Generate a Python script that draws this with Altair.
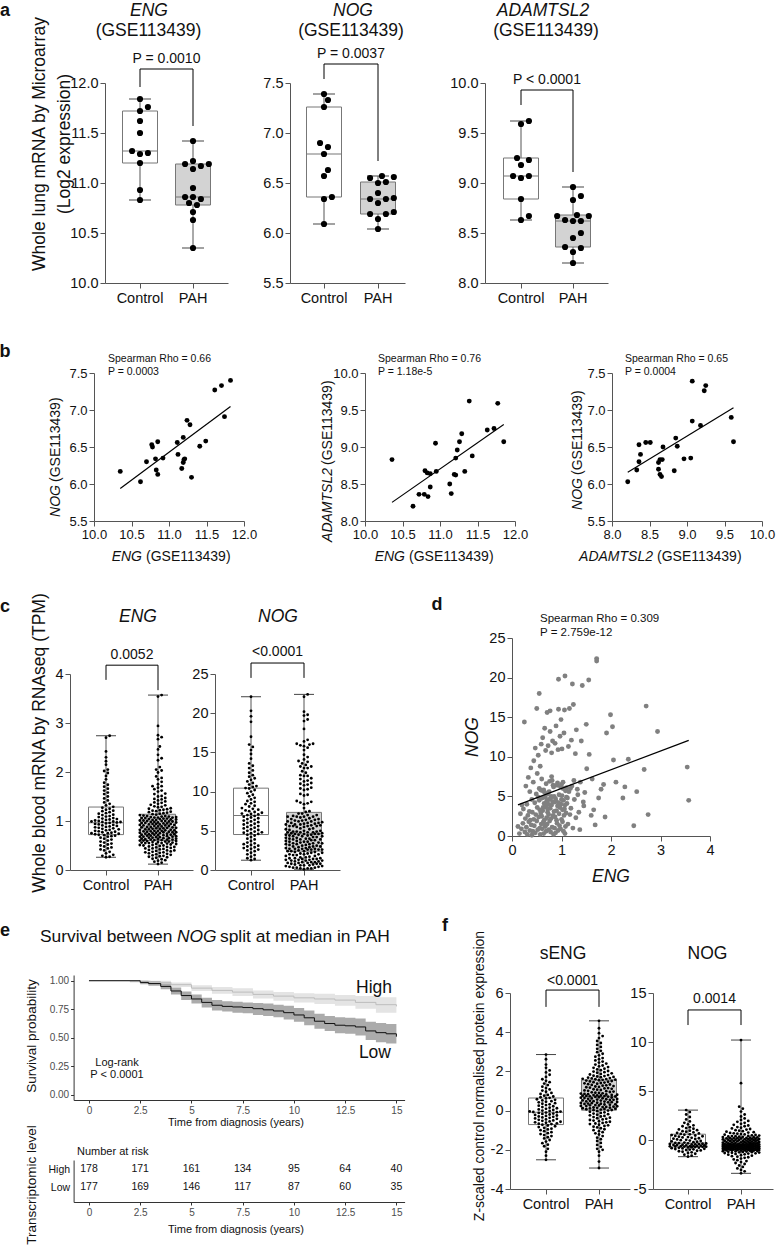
import math
import numpy as np
import pandas as pd
import altair as alt

FONT = "Liberation Sans"
ONE = pd.DataFrame({"k": [0]})
GROUPS = ["Control", "PAH"]
AXC = "#555555"
BOXC = "#777777"
PAH_FILL = "#d3d3d3"
W_TOTAL, H_TOTAL = 777, 1249

# ---------------- panel a : GSE113439 microarray ----------------
a_eng_ctrl = [11.84, 11.76, 11.72, 11.62, 11.50, 11.32, 11.30, 11.29, 11.20, 10.93, 10.83]
a_eng_pah = [11.42, 11.22, 11.19, 11.19, 11.17, 11.14, 10.95, 10.86, 10.86, 10.84, 10.80, 10.78, 10.71, 10.63, 10.35]
a_nog_ctrl = [7.39, 7.33, 7.26, 6.90, 6.86, 6.79, 6.63, 6.57, 6.36, 6.34, 6.09]
a_nog_pah = [6.57, 6.56, 6.55, 6.51, 6.50, 6.40, 6.35, 6.34, 6.34, 6.30, 6.21, 6.19, 6.19, 6.14, 6.04]
a_adam_ctrl = [9.62, 9.59, 9.25, 9.23, 9.18, 9.07, 9.07, 9.05, 8.84, 8.67, 8.63]
a_adam_pah = [8.96, 8.87, 8.83, 8.68, 8.67, 8.67, 8.63, 8.62, 8.62, 8.50, 8.45, 8.36, 8.35, 8.31, 8.20]

# ---------------- panel b : correlations ----------------
b1_eng = [10.35, 10.62, 10.70, 10.77, 10.78, 10.85, 10.82, 10.83, 10.85, 10.92, 11.11, 11.12, 11.19,
          11.24, 11.28, 11.17, 11.19, 11.21, 11.30, 11.41, 11.49, 11.61, 11.70, 11.74, 11.82, 11.20]
b1_nog = [6.17, 6.03, 6.30, 6.53, 6.50, 6.57, 6.34, 6.19, 6.13, 6.35, 6.56, 6.40, 6.63,
          6.86, 6.80, 6.21, 6.29, 6.34, 6.09, 6.51, 6.58, 7.27, 7.33, 6.91, 7.40, 6.33]
b2_eng = [10.36, 10.64, 10.72, 10.79, 10.80, 10.83, 10.87, 10.84, 10.87, 10.94, 10.95, 11.13, 11.15,
          11.19, 11.21, 11.21, 11.23, 11.26, 11.29, 11.33, 11.43, 11.39, 11.63, 11.72, 11.77, 11.85]
b2_adam = [8.83, 8.20, 8.36, 8.36, 8.68, 8.65, 8.64, 8.33, 8.46, 9.05, 8.67, 8.50, 8.37,
           8.63, 8.62, 8.85, 8.96, 9.07, 9.18, 8.67, 8.88, 9.62, 9.23, 9.25, 9.59, 9.07]
b3_adam = [8.21, 8.33, 8.36, 8.36, 8.38, 8.45, 8.51, 8.62, 8.62, 8.64, 8.66, 8.64, 8.67,
           8.68, 8.83, 8.85, 8.87, 8.96, 9.05, 9.07, 9.07, 9.18, 9.23, 9.25, 9.59, 9.62]
b3_nog = [6.03, 6.19, 6.30, 6.53, 6.40, 6.56, 6.56, 6.29, 6.20, 6.13, 6.10, 6.33, 6.33,
          6.50, 6.18, 6.62, 6.51, 6.34, 6.35, 6.85, 7.39, 6.79, 7.26, 7.33, 6.90, 6.57]

# ---------------- panel c/d : whole blood RNAseq (TPM) ----------------
c_eng_ctrl = [2.74, 2.70, 2.42, 2.30, 2.22, 2.15, 2.05, 2.02, 1.98, 1.92, 1.85, 1.78, 1.74, 1.70, 1.66,
              1.62, 1.58, 1.55, 1.50, 1.46, 1.42, 1.38, 1.35, 1.32, 1.29,
              1.27, 1.25, 1.23, 1.21, 1.20, 1.18, 1.16, 1.15, 1.13, 1.12, 1.10, 1.09, 1.08, 1.06, 1.05,
              1.04, 1.03, 1.02, 1.01, 1.00, 0.99, 0.99, 0.98, 0.98, 0.97,
              0.96, 0.95, 0.94, 0.93, 0.92, 0.91, 0.90, 0.89, 0.88, 0.87, 0.86, 0.85, 0.84, 0.83, 0.82,
              0.81, 0.80, 0.79, 0.78, 0.77, 0.76, 0.75, 0.75, 0.74, 0.73,
              0.72, 0.71, 0.70, 0.69, 0.68, 0.66, 0.64, 0.62, 0.60, 0.58, 0.56, 0.54, 0.52, 0.50, 0.48,
              0.46, 0.44, 0.42, 0.40, 0.37, 0.34, 0.31, 0.29, 0.27, 0.26]
c_nog_ctrl = [22.1, 20.3, 19.6, 18.9, 17.0, 16.0, 15.7, 15.3, 14.8, 14.2, 13.6, 13.3, 13.0, 12.7, 12.4,
              12.1, 11.9, 11.7, 11.5, 11.3, 11.1, 10.9, 10.7, 10.6, 10.45,
              10.4, 10.2, 10.0, 9.8, 9.6, 9.4, 9.2, 9.0, 8.8, 8.7, 8.5, 8.4, 8.2, 8.1, 7.9,
              7.8, 7.7, 7.6, 7.5, 7.4, 7.3, 7.2, 7.15, 7.1, 7.0,
              6.9, 6.8, 6.7, 6.6, 6.5, 6.4, 6.3, 6.2, 6.1, 6.0, 5.9, 5.8, 5.7, 5.6, 5.5,
              5.4, 5.3, 5.2, 5.1, 5.0, 4.9, 4.8, 4.75, 4.7, 4.6,
              4.5, 4.4, 4.2, 4.0, 3.9, 3.7, 3.5, 3.4, 3.3, 3.2, 3.1, 3.0, 2.9, 2.8, 2.7,
              2.6, 2.5, 2.4, 2.2, 2.0, 1.9, 1.7, 1.5, 1.4, 1.25]
# PAH patients: ENG and NOG TPM (paired; also the points of panel d)
pah_eng = [0.12, 0.15, 0.17, 0.19, 0.20, 0.22, 0.23, 0.25, 0.26, 0.27, 0.28, 0.29, 0.30, 0.31, 0.32,
           0.33, 0.34, 0.35, 0.36, 0.36, 0.37, 0.38, 0.39, 0.40, 0.40,
           0.41, 0.42, 0.43, 0.44, 0.44, 0.45, 0.46, 0.47, 0.47, 0.48, 0.49, 0.50, 0.50, 0.51, 0.51,
           0.52, 0.53, 0.53, 0.54, 0.55, 0.55, 0.56, 0.56, 0.57, 0.57, 0.58, 0.58, 0.59, 0.59, 0.55,
           0.60, 0.60, 0.61, 0.61, 0.62, 0.62, 0.63, 0.63, 0.64, 0.64, 0.65, 0.65, 0.66, 0.66, 0.67,
           0.67, 0.68, 0.68, 0.69, 0.69, 0.70, 0.70, 0.71, 0.71, 0.72, 0.72, 0.73, 0.73, 0.74, 0.74,
           0.75, 0.75, 0.76, 0.76, 0.77, 0.77, 0.78, 0.78, 0.79, 0.79, 0.80, 0.80, 0.81, 0.81, 0.82,
           0.82, 0.83, 0.83, 0.84, 0.84, 0.62, 0.68, 0.72, 0.77, 0.80,
           0.85, 0.85, 0.86, 0.86, 0.87, 0.87, 0.88, 0.88, 0.89, 0.89, 0.90, 0.90, 0.91, 0.91, 0.92,
           0.92, 0.93, 0.93, 0.94, 0.94, 0.95, 0.95, 0.96, 0.96, 0.97, 0.97, 0.98, 0.98, 0.99, 0.99,
           1.00, 1.00, 1.01, 1.01, 1.02, 1.02, 1.03, 1.03, 1.04, 1.04, 1.05, 1.05, 1.06, 1.06, 1.07,
           1.07, 1.08, 1.08, 1.09, 1.09, 1.10, 1.10, 0.94, 1.07, 1.00,
           1.11, 1.12, 1.13, 1.14, 1.15, 1.16, 1.17, 1.18, 1.19, 1.20, 1.21, 1.22, 1.23, 1.24, 1.25,
           1.26, 1.28, 1.29, 1.30, 1.32, 1.33, 1.35, 1.37, 1.38, 1.40, 1.42, 1.44, 1.45, 1.47, 1.50,
           1.51, 1.55, 1.56, 1.60, 1.62, 1.65, 1.68, 1.71, 1.71, 1.75, 1.80, 1.85, 1.88, 1.91, 1.99,
           2.03, 2.05, 2.10, 2.24, 2.28, 2.35, 2.46, 2.52, 2.67, 2.71, 2.75, 2.94, 3.54, 3.57]
pah_nog = [1.2, 0.3, 2.8, 0.9, 3.9, 1.6, 3.4, 14.4, 0.5, 2.2, 6.3, 1.1, 4.0, 0.2, 2.6,
           7.4, 1.8, 3.1, 0.7, 5.6, 2.0, 8.6, 1.4, 4.6, 0.1,
           3.0, 0.6, 6.8, 2.1, 9.5, 1.3, 4.2, 11.1, 0.4, 2.7, 5.3, 16.1, 1.9, 3.6, 7.9,
           0.8, 4.9, 10.2, 2.4, 6.0, 18.0, 1.0, 3.3, 8.8, 0.2, 5.8, 2.9, 11.6, 1.5, 4.5,
           2.5, 7.2, 0.9, 4.8, 12.4, 3.2, 1.7, 3.6, 5.8, 0.3, 4.1, 2.0, 13.6, 5.5, 1.2,
           4.9, 3.7, 10.8, 0.6, 6.6, 2.3, 4.4, 15.6, 1.5, 5.3, 3.0, 4.0, 11.4, 0.8, 2.7,
           5.6, 4.6, 1.9, 6.9, 13.2, 3.5, 0.5, 4.7, 5.0, 2.2, 10.5, 3.9, 7.0, 1.1, 4.3,
           12.0, 2.6, 6.4, 0.2, 6.2, 5.7, 1.4, 3.4, 15.8, 7.5,
           3.1, 5.0, 1.0, 4.3, 11.7, 2.4, 4.7, 0.4, 4.4, 13.9, 2.0, 3.2, 6.4, 1.6, 3.8,
           6.7, 0.7, 10.9, 4.2, 19.8, 2.8, 5.2, 3.7, 1.3, 12.6, 3.6, 6.2, 0.9, 4.0, 14.7,
           2.1, 4.6, 5.1, 11.0, 1.8, 3.3, 6.8, 6.0, 0.6, 4.5, 13.0, 2.6, 3.4, 15.9, 3.9,
           20.2, 1.2, 5.7, 5.8, 2.9, 6.1, 4.9, 16.0, 0.3, 6.5,
           4.1, 4.8, 1.5, 11.3, 5.6, 16.1, 2.7, 6.0, 3.5, 12.1, 6.3, 19.2, 1.0, 16.6, 7.0,
           4.6, 10.4, 2.3, 13.4, 5.9, 5.2, 3.0, 0.8, 6.8, 12.0, 19.0, 4.3, 3.8, 5.5, 14.1,
           8.5, 19.7, 10.3, 2.6, 7.2, 3.3, 1.4, 22.4, 22.1, 4.8, 5.9, 6.5, 2.4, 13.0, 15.3,
           13.8, 9.6, 6.8, 4.8, 6.2, 9.7, 1.3, 5.6, 8.4, 16.4, 2.7, 13.2, 8.7, 4.5]

# ---------------- panel e : survival ----------------
km_t_high = [0, 2, 3, 4, 5, 6, 7, 8, 9, 10, 11, 12, 13, 14, 15]
km_s_high = [1.0, 0.995, 0.985, 0.965, 0.935, 0.915, 0.90, 0.88, 0.865, 0.85, 0.84, 0.83, 0.81, 0.79, 0.775]
km_lo_high = [1.0, 0.985, 0.97, 0.945, 0.91, 0.885, 0.865, 0.845, 0.825, 0.81, 0.795, 0.78, 0.755, 0.72, 0.69]
km_hi_high = [1.0, 1.0, 1.0, 0.985, 0.96, 0.945, 0.935, 0.915, 0.90, 0.89, 0.885, 0.875, 0.865, 0.855, 0.85]
km_t_low = [0, 2.5, 2.9, 3.5, 4.0, 4.5, 5.0, 5.5, 6.0, 6.5, 7.0, 7.5, 8.0, 8.5, 9.0, 9.5, 10.0,
            10.5, 11.0, 11.5, 12.0, 12.5, 13.0, 13.5, 14.0, 14.5, 15.0]
km_s_low = [1.0, 0.985, 0.975, 0.95, 0.91, 0.87, 0.84, 0.81, 0.785, 0.775, 0.77, 0.765, 0.755, 0.745,
            0.735, 0.72, 0.70, 0.675, 0.645, 0.625, 0.61, 0.605, 0.595, 0.56, 0.545, 0.535, 0.51]
km_lo_low = [1.0, 0.97, 0.955, 0.925, 0.88, 0.83, 0.80, 0.765, 0.74, 0.73, 0.72, 0.715, 0.70, 0.69,
             0.68, 0.66, 0.64, 0.61, 0.58, 0.56, 0.54, 0.535, 0.52, 0.48, 0.46, 0.45, 0.42]
km_hi_low = [1.0, 1.0, 0.995, 0.975, 0.94, 0.905, 0.88, 0.85, 0.83, 0.82, 0.815, 0.81, 0.805, 0.80,
             0.79, 0.78, 0.76, 0.74, 0.71, 0.69, 0.68, 0.675, 0.67, 0.64, 0.63, 0.62, 0.60]
risk_times = [0, 2.5, 5, 7.5, 10, 12.5, 15]
risk_high = [178, 171, 161, 134, 95, 64, 40]
risk_low = [177, 169, 146, 117, 87, 60, 35]

# ---------------- panel f : plasma proteomics ----------------
f_seng_ctrl = [2.86, 2.62, 2.35, 2.18, 2.05, 1.95, 1.83, 1.72, 1.60, 1.52, 1.45, 1.38, 1.30, 1.22, 1.15,
               1.08, 1.02, 0.96, 0.90, 0.85, 0.80, 0.76, 0.72, 0.68, 0.65,
               0.62, 0.58, 0.55, 0.52, 0.48, 0.45, 0.42, 0.38, 0.35, 0.32, 0.28, 0.25, 0.22, 0.18, 0.15,
               0.12, 0.09, 0.06, 0.03, 0.0, -0.02, -0.04, -0.05, -0.07, -0.08,
               -0.10, -0.12, -0.15, -0.17, -0.20, -0.22, -0.25, -0.27, -0.30, -0.32, -0.35, -0.37, -0.40,
               -0.42, -0.45, -0.47, -0.50, -0.52, -0.55, -0.57, -0.60, -0.62, -0.65, -0.67, -0.69,
               -0.72, -0.76, -0.80, -0.84, -0.88, -0.92, -0.96, -1.00, -1.05, -1.10, -1.15, -1.20, -1.25,
               -1.30, -1.36, -1.42, -1.50, -1.58, -1.66, -1.74, -1.82, -1.95, -2.10, -2.30, -2.51]
f_seng_pah = [4.58, 4.2, 3.95, 3.8, 3.7, 3.55, 3.45, 3.35, 3.25, 3.15, 3.05, 2.98, 2.9, 2.82, 2.75,
              2.68, 2.62, 2.56, 2.5, 2.45, 2.4, 2.35, 2.3, 2.26, 2.22, 2.18, 2.14, 2.1, 2.06, 2.02,
              1.99, 1.96, 1.93, 1.9, 1.87, 1.84, 1.81, 1.78, 1.76, 1.74, 1.72, 1.7, 1.68, 1.66, 1.64,
              1.62, 1.61, 1.6, 1.58, 1.57,
              1.55, 1.53, 1.51, 1.49, 1.47, 1.45, 1.43, 1.41, 1.39, 1.37, 1.35, 1.33, 1.31, 1.29, 1.27,
              1.25, 1.23, 1.21, 1.19, 1.17, 1.15, 1.13, 1.11, 1.09, 1.07, 1.05, 1.03, 1.01, 0.99, 0.97,
              0.95, 0.93, 0.91, 0.9, 0.88, 0.87, 0.85, 0.84, 0.82, 0.81, 0.8, 0.79, 0.78, 0.77, 0.76,
              0.75, 0.74, 0.73, 0.72, 0.71,
              0.70, 0.68, 0.67, 0.66, 0.64, 0.63, 0.62, 0.6, 0.59, 0.58, 0.56, 0.55, 0.54, 0.52, 0.51,
              0.5, 0.48, 0.47, 0.46, 0.44, 0.43, 0.42, 0.4, 0.39, 0.38, 0.36, 0.35, 0.34, 0.32, 0.31,
              0.3, 0.28, 0.27, 0.26, 0.24, 0.23, 0.22, 0.2, 0.19, 0.18, 0.16, 0.15, 0.14, 0.12, 0.11,
              0.1, 0.08, 0.07, 0.05, 0.03,
              0.02, 0.0, -0.03, -0.06, -0.09, -0.12, -0.15, -0.18, -0.21, -0.24, -0.27, -0.3, -0.33,
              -0.36, -0.39, -0.42, -0.45, -0.48, -0.51, -0.54, -0.57, -0.6, -0.63, -0.66, -0.69, -0.72,
              -0.75, -0.78, -0.82, -0.86, -0.9, -0.95, -1.0, -1.05, -1.1, -1.16, -1.22, -1.3, -1.38,
              -1.46, -1.55, -1.65, -1.75, -1.85, -1.95, -2.0, -2.1, -2.3, -2.6, -2.93]
f_nog_ctrl = [3.05, 2.85, 2.6, 2.35, 2.1, 1.9, 1.75, 1.6, 1.5, 1.4, 1.3, 1.22, 1.15, 1.08, 1.0, 0.95,
              0.9, 0.84, 0.78, 0.72, 0.67, 0.62,
              0.58, 0.54, 0.5, 0.46, 0.42, 0.38, 0.34, 0.3, 0.26, 0.22, 0.18, 0.14, 0.1, 0.06, 0.02,
              -0.02, -0.06, -0.1, -0.14, -0.18, -0.22, -0.26, -0.3,
              -0.32, -0.34, -0.36, -0.38, -0.4, -0.42, -0.44, -0.46, -0.48, -0.5, -0.52, -0.54, -0.56,
              -0.58, -0.6, -0.62, -0.63, -0.64, -0.65, -0.66, -0.67, -0.68, -0.7,
              -0.72, -0.74, -0.76, -0.78, -0.8, -0.83, -0.86, -0.89, -0.92, -0.95, -0.98, -1.02, -1.06,
              -1.1, -1.15, -1.2, -1.26, -1.32, -1.4, -1.5, -1.6, -1.7]
f_nog_pah = [10.2, 5.8, 3.4, 3.2, 2.9, 2.6, 2.4, 2.2, 2.05, 1.95, 1.85, 1.75, 1.65, 1.55, 1.48, 1.4,
             1.32, 1.25, 1.18, 1.12, 1.06, 1.0, 0.95, 0.9, 0.85, 0.8, 0.76, 0.72, 0.68, 0.64, 0.6,
             0.57, 0.54, 0.51, 0.48, 0.45, 0.42, 0.4, 0.38, 0.36, 0.34, 0.32, 0.3, 0.28, 0.26, 0.24,
             0.22, 0.2, 0.19, 0.18,
             0.16, 0.15, 0.13, 0.12, 0.1, 0.09, 0.07, 0.06, 0.04, 0.03, 0.01, 0.0, -0.02, -0.03, -0.05,
             -0.06, -0.08, -0.09, -0.11, -0.12, -0.14, -0.15, -0.17, -0.18, -0.2, -0.21, -0.23, -0.24,
             -0.26, -0.27, -0.29, -0.3, -0.32, -0.33, -0.35, -0.36, -0.37, -0.38, -0.39, -0.4, -0.41,
             -0.42, -0.43, -0.44, -0.45, -0.46, -0.47, -0.48, -0.49, -0.5,
             -0.51, -0.52, -0.53, -0.54, -0.55, -0.56, -0.57, -0.58, -0.59, -0.6, -0.61, -0.62, -0.63,
             -0.64, -0.65, -0.66, -0.67, -0.68, -0.69, -0.7, -0.71, -0.72, -0.73, -0.74, -0.75, -0.76,
             -0.77, -0.78, -0.79, -0.8, -0.81, -0.82, -0.83, -0.84, -0.85, -0.86, -0.87, -0.88, -0.89,
             -0.9, -0.91, -0.92, -0.93, -0.94, -0.95, -0.6, -0.7, -0.8, -0.9, -0.65,
             -0.96, -0.97, -0.98, -0.99, -1.0, -1.01, -1.02, -1.03, -1.04, -1.05, -1.06, -1.07, -1.08,
             -1.09, -1.1, -1.12, -1.14, -1.16, -1.18, -1.2, -1.22, -1.24, -1.26, -1.28, -1.3, -1.33,
             -1.36, -1.39, -1.42, -1.46, -1.5, -1.55, -1.6, -1.65, -1.7, -1.76, -1.82, -1.9, -1.98,
             -2.06, -2.15, -2.25, -2.35, -2.45, -2.6, -2.75, -2.9, -3.05, -3.2, -3.4]

# ---------------- layout: plot rectangles (left, top, right, bottom) ----------------
R_A1 = (105, 83, 228, 283)
R_A2 = (290, 83, 405, 283)
R_A3 = (485, 83, 608, 283)
R_B1 = (94, 373, 244, 521)
R_B2 = (365, 373, 515, 521)
R_B3 = (612, 373, 762, 521)
R_C1 = (70, 674, 193, 870)
R_C2 = (215, 674, 340, 870)
R_D = (512, 638, 710, 836)
R_KM = (73.6, 975, 404.6, 1100)
R_TAB = (73.6, 1160, 404.6, 1202)
R_F1 = (510, 993, 630, 1189)
R_F2 = (653, 993, 773, 1189)

NEG = "datum.value < 0 ? '-' + (-datum.value) : '' + datum.value"
PLAIN = "'' + datum.value"


def swarm(vals, pxu, diam, maxhalf):
    n = len(vals)
    order = sorted(range(n), key=lambda i: vals[i])
    step = diam * 0.55
    cands = [0.0]
    k = 1
    while k * step <= maxhalf:
        cands += [k * step, -k * step]
        k += 1
    placed = []
    offs = [0.0] * n
    for i in order:
        y = vals[i] * pxu
        near = [(py, px) for (py, px) in placed if abs(py - y) < diam]
        best, bestd = 0.0, -1.0
        for c in cands:
            dmin = min((math.hypot(px - c, py - y) for py, px in near), default=1e9)
            if dmin >= diam * 0.98:
                best = c
                break
            if dmin > bestd:
                best, bestd = c, dmin
        offs[i] = best
        placed.append((y, best))
    return offs


def T(s, x, y, size, style="normal", weight="normal", align="center", angle=0, color="#111111"):
    return alt.Chart(ONE).mark_text(
        text=s, font=FONT, fontSize=size, fontStyle=style, fontWeight=weight,
        align=align, baseline="middle", angle=angle, color=color,
    ).encode(x=alt.value(x), y=alt.value(y))


def axis(orient, R, values=None, fmt=None, fs=14.5, lexpr=None, tick=5, pad=2, color="#111111",
         dcol=AXC, ticks=True):
    kw = dict(orient=orient, title=None, grid=False, labelFontSize=fs, labelFont=FONT,
              labelColor=color, tickSize=tick, labelPadding=pad, domainColor=dcol, ticks=ticks,
              tickColor=dcol, labelFlush=False, labelOverlap=False, domainWidth=1, tickWidth=1)
    if orient == "left":
        kw["offset"] = -R[0]
    else:
        kw["offset"] = R[3] - H_TOTAL
        kw["labelAngle"] = 0
    if values is not None:
        kw["values"] = values
    if fmt:
        kw["format"] = fmt
    if lexpr:
        kw["labelExpr"] = lexpr
    return alt.Axis(**kw)


def stats(group, vals):
    q1, med, q3 = np.percentile(vals, [25, 50, 75], method="weibull")
    return dict(group=group, lo=min(vals), q1=q1, med=med, q3=q3, hi=max(vals))


def box_panel(ctrl, pah, R, dom, ticks, c1, c2, bracket, ptxt, pdy, diam, maxhalf,
              ptsize, box_w=35, cap_w=20, fmt=None, lexpr=None, pfs=14, lab_fs=14.5):
    x0, y0, x1, y1 = R
    w, h = x1 - x0, y1 - y0
    s = c2 - c1
    total = w - 2 * s
    po = total / (2 * s)
    al = (c1 - s / 2 - x0) / total if total > 0 else 0.5
    al = min(max(al, 0.0), 1.0)
    pxu = h / (dom[1] - dom[0])
    offs = swarm(ctrl, pxu, diam, maxhalf) + swarm(pah, pxu, diam, maxhalf)
    df = pd.DataFrame({"group": ["Control"] * len(ctrl) + ["PAH"] * len(pah),
                       "value": list(ctrl) + list(pah), "off": offs})
    st = pd.DataFrame([stats("Control", ctrl), stats("PAH", pah)])
    xsc = alt.Scale(type="band", domain=GROUPS, range=[x0, x1], paddingInner=0,
                    paddingOuter=po, align=al)
    X = alt.X("group:N", scale=xsc, axis=axis("bottom", R, fs=lab_fs, pad=3), sort=GROUPS)
    ysc = alt.Scale(domain=dom, range=[y1, y0], nice=False, zero=False)
    yax = axis("left", R, ticks, fmt=fmt, lexpr=lexpr, fs=lab_fs)

    def Y(f):
        return alt.Y(f + ":Q", scale=ysc, axis=yax)

    whisk = alt.Chart(st).mark_rule(color="#555555", strokeWidth=1).encode(x=X, y=Y("lo"), y2="hi:Q")
    box = alt.Chart(st).mark_bar(size=box_w, stroke=BOXC, strokeWidth=1).encode(
        x=X, y=Y("q1"), y2="q3:Q",
        fill=alt.Fill("group:N", scale=alt.Scale(domain=GROUPS, range=["white", PAH_FILL]), legend=None))
    med = alt.Chart(st).mark_tick(size=box_w, thickness=1, color=BOXC, opacity=1).encode(x=X, y=Y("med"))
    cap_lo = alt.Chart(st).mark_tick(size=cap_w, thickness=1, color="#444444", opacity=1).encode(x=X, y=Y("lo"))
    cap_hi = alt.Chart(st).mark_tick(size=cap_w, thickness=1, color="#444444", opacity=1).encode(x=X, y=Y("hi"))
    pts = alt.Chart(df).mark_circle(size=ptsize, color="black", opacity=1).encode(
        x=X,
        xOffset=alt.XOffset("off:Q", scale=alt.Scale(domain=[-s / 2, s / 2], range=[0, s], nice=False, zero=False)),
        y=Y("value"))
    brdf = pd.DataFrame({"group": ["Control", "Control", "PAH", "PAH"],
                         "value": [bracket[0], bracket[1], bracket[1], bracket[2]], "o": [0, 1, 2, 3]})
    br = alt.Chart(brdf).mark_line(color="black", strokeWidth=1).encode(x=X, y=Y("value"), order="o:Q")
    ptext = alt.Chart(pd.DataFrame({"value": [bracket[1]]})).mark_text(
        text=ptxt, font=FONT, fontSize=pfs, dy=pdy, color="#111111").encode(
        x=alt.value((c1 + c2) / 2), y=Y("value"))
    return alt.layer(whisk, box, med, cap_lo, cap_hi, pts, br, ptext)


def scatter_panel(xs, ys, R, xdom, xticks, ydom, yticks, color, size, lab_fs, fmt=".1f"):
    x0, y0, x1, y1 = R
    df = pd.DataFrame({"x": xs, "y": ys})
    X = alt.X("x:Q", scale=alt.Scale(domain=xdom, range=[x0, x1], nice=False, zero=False),
              axis=axis("bottom", R, xticks, fmt, lab_fs))
    Y = alt.Y("y:Q", scale=alt.Scale(domain=ydom, range=[y1, y0], nice=False, zero=False),
              axis=axis("left", R, yticks, fmt, lab_fs))
    pts = alt.Chart(df).mark_circle(size=size, color=color, opacity=1).encode(x=X, y=Y)
    reg = alt.Chart(df).transform_regression("x", "y").mark_line(color="black", strokeWidth=1.2).encode(x=X, y=Y)
    return alt.layer(pts, reg)


panels = []
texts = []

# ---------------- row a ----------------
panels.append(box_panel(a_eng_ctrl, a_eng_pah, R_A1, [10, 12], [10, 10.5, 11, 11.5, 12], 140, 193,
                        (11.96, 12.14, 11.57), "P = 0.0010", -10.5, 7.2, 17, 38, 35, 22, fmt=".1f"))
panels.append(box_panel(a_nog_ctrl, a_nog_pah, R_A2, [5.5, 7.5], [5.5, 6, 6.5, 7, 7.5], 324, 378,
                        (7.54, 7.69, 6.72), "P = 0.0037", -10.5, 7.2, 17, 38, 35, 22, fmt=".1f"))
panels.append(box_panel(a_adam_ctrl, a_adam_pah, R_A3, [8, 10], [8, 8.5, 9, 9.5, 10], 521, 573,
                        (9.78, 9.93, 9.11), "P < 0.0001", -10.5, 7.2, 17, 38, 35, 22, fmt=".1f"))
texts += [T("a", 5, 11, 18, weight="bold"),
          T("ENG", 149, 11, 17.5, style="italic"),
          T("(GSE113439)", 148.5, 31, 17.5),
          T("Whole lung mRNA by Microarray", 40, 144, 17.5, angle=270),
          T("(Log2 expression)", 65, 144, 17.5, angle=270),
          T("NOG", 353, 11, 17.5, style="italic"),
          T("(GSE113439)", 351, 31, 17.5),
          T("ADAMTSL2", 543, 11, 17.5, style="italic"),
          T("(GSE113439)", 546, 31, 17.5)]

# ---------------- row b ----------------
panels.append(scatter_panel(b1_eng, b1_nog, R_B1, [10, 12], [10, 10.5, 11, 11.5, 12], [5.5, 7.5],
                            [5.5, 6, 6.5, 7, 7.5], "black", 24, 13))
panels.append(scatter_panel(b2_eng, b2_adam, R_B2, [10, 12], [10, 10.5, 11, 11.5, 12], [8, 10],
                            [8, 8.5, 9, 9.5, 10], "black", 24, 13))
panels.append(scatter_panel(b3_adam, b3_nog, R_B3, [8, 10], [8, 8.5, 9, 9.5, 10], [5.5, 7.5],
                            [5.5, 6, 6.5, 7, 7.5], "black", 24, 13))
texts += [T("b", 5, 352, 18, weight="bold"),
          T("Spearman Rho = 0.66", 108, 359, 10.5, align="left"),
          T("P = 0.0003", 108, 372, 10.5, align="left"),
          T("ENG", 142, 557, 14, style="italic", align="right"),
          T("(GSE113439)", 146, 557, 14, align="left"),
          T("NOG", 56, 485, 14, style="italic", align="right", angle=270),
          T("(GSE113439)", 56, 482, 14, align="left", angle=270),
          T("Spearman Rho = 0.76", 378, 359, 10.5, align="left"),
          T("P = 1.18e-5", 378, 372, 10.5, align="left"),
          T("ENG", 405, 557, 14, style="italic", align="right"),
          T("(GSE113439)", 409, 557, 14, align="left"),
          T("ADAMTSL2", 328, 468, 14, style="italic", align="right", angle=270),
          T("(GSE113439)", 328, 465, 14, align="left", angle=270),
          T("Spearman Rho = 0.65", 625, 359, 10.5, align="left"),
          T("P = 0.0004", 625, 372, 10.5, align="left"),
          T("ADAMTSL2", 653, 557, 14, style="italic", align="right"),
          T("(GSE113439)", 657, 557, 14, align="left"),
          T("NOG", 578, 478, 14, style="italic", align="right", angle=270),
          T("(GSE113439)", 578, 475, 14, align="left", angle=270)]

# ---------------- row c / d ----------------
panels.append(box_panel(c_eng_ctrl, pah_eng, R_C1, [0, 4], [0, 1, 2, 3, 4], 106, 158,
                        (3.88, 4.18, 3.67), "0.0052", -10, 3.3, 19, 8, 35, 20, fmt="d"))
panels.append(box_panel(c_nog_ctrl, pah_nog, R_C2, [0, 25], [0, 5, 10, 15, 20, 25], 251, 304,
                        (24.5, 26.4, 24.5), "<0.0001", -11, 3.3, 19, 8, 35, 20, fmt="d"))
panels.append(scatter_panel(pah_eng, pah_nog, R_D, [0, 4], [0, 1, 2, 3, 4], [0, 25],
                            [0, 5, 10, 15, 20, 25], "#808080", 24, 14.5, fmt="d"))
texts += [T("c", 5, 607, 18, weight="bold"),
          T("ENG", 138, 617, 17.5, style="italic"),
          T("NOG", 278, 617, 17.5, style="italic"),
          T("Whole blood mRNA by RNAseq (TPM)", 40, 743, 17.5, angle=270),
          T("d", 437, 605, 18, weight="bold"),
          T("Spearman Rho = 0.309", 540, 619, 11.5, align="left"),
          T("P = 2.759e-12", 540, 633, 11.5, align="left"),
          T("NOG", 473, 737, 17.5, style="italic", angle=270),
          T("ENG", 611, 877, 17.5, style="italic")]

# ---------------- row e ----------------
kx = alt.Scale(domain=[-0.75, 15.4], range=[R_KM[0], R_KM[2]], nice=False, zero=False)
ky = alt.Scale(domain=[-0.045, 1.05], range=[R_KM[3], R_KM[1]], nice=False, zero=False)
kxax = axis("bottom", R_KM, [0, 2.5, 5, 7.5, 10, 12.5, 15], None, 10, lexpr=PLAIN, tick=3, pad=2,
            color="#4d4d4d", dcol="#333333")
kyax = axis("left", R_KM, [0, 0.25, 0.5, 0.75, 1.0], ".2f", 10, tick=3, pad=2,
            color="#4d4d4d", dcol="#333333")
dfh = pd.DataFrame({"t": km_t_high, "s": km_s_high, "lo": km_lo_high, "hi": km_hi_high})
dfl = pd.DataFrame({"t": km_t_low, "s": km_s_low, "lo": km_lo_low, "hi": km_hi_low})
KX = alt.X("t:Q", scale=kx, axis=kxax)


def KY(f):
    return alt.Y(f + ":Q", scale=ky, axis=kyax)


band_h = alt.Chart(dfh).mark_area(interpolate="step-after", color="#e4e4e4", opacity=1).encode(
    x=KX, y=KY("lo"), y2="hi:Q")
band_l = alt.Chart(dfl).mark_area(interpolate="step-after", color="#ababab", opacity=1).encode(
    x=KX, y=KY("lo"), y2="hi:Q")
line_h = alt.Chart(dfh).mark_line(interpolate="step-after", color="#bdbdbd", strokeWidth=1).encode(x=KX, y=KY("s"))
line_l = alt.Chart(dfl).mark_line(interpolate="step-after", color="#111111", strokeWidth=1).encode(x=KX, y=KY("s"))
panels.append(alt.layer(band_h, band_l, line_h, line_l))

tx = alt.Scale(domain=[-0.75, 15.4], range=[R_TAB[0], R_TAB[2]], nice=False, zero=False)
txax = axis("bottom", R_TAB, [0, 2.5, 5, 7.5, 10, 12.5, 15], None, 10, lexpr=PLAIN, tick=3, pad=2,
            color="#4d4d4d", dcol="#333333")
tyax = axis("left", R_TAB, [0, 1], None, 10.5, lexpr="datum.value == 1 ? 'High' : 'Low'",
            tick=0, pad=4, color="#111111", dcol="#333333", ticks=False)
dft = pd.DataFrame({"t": risk_times * 2, "row": [1] * len(risk_times) + [0] * len(risk_times),
                    "n": risk_high + risk_low})
panels.append(alt.Chart(dft).mark_text(font=FONT, fontSize=10.5, color="#111111").encode(
    x=alt.X("t:Q", scale=tx, axis=txax),
    y=alt.Y("row:Q", scale=alt.Scale(domain=[-0.833, 1.5], range=[R_TAB[3], R_TAB[1]], nice=False, zero=False),
            axis=tyax),
    text="n:Q"))
texts += [T("e", 5, 931, 18, weight="bold"),
          T("Survival between", 40, 937, 17.4, align="left"),
          T("NOG", 177, 937, 17.4, style="italic", align="left"),
          T("split at median in PAH", 220, 937, 17.4, align="left"),
          T("High", 392, 988, 17.5, align="right"),
          T("Low", 391, 1053, 17.5, align="right"),
          T("Log-rank", 117, 1063, 11),
          T("P < 0.0001", 117, 1075, 11),
          T("Survival probability", 32, 1036, 13.5, angle=270),
          T("Time from diagnosis (years)", 236, 1123, 11),
          T("Number at risk", 77, 1152, 11, align="left"),
          T("Time from diagnosis (years)", 236, 1230, 11),
          T("Transcriptomic level", 32, 1185, 13.5, angle=270)]

# ---------------- row f ----------------
panels.append(box_panel(f_seng_ctrl, f_seng_pah, R_F1, [-4, 6], [-4, -2, 0, 2, 4, 6], 546, 599,
                        (5.29, 6.15, 5.29), "<0.0001", -9, 3.3, 19, 8, 35, 20, lexpr=NEG))
panels.append(box_panel(f_nog_ctrl, f_nog_pah, R_F2, [-5, 15], [-5, 0, 5, 10, 15], 688, 741,
                        (11.73, 13.27, 11.73), "0.0014", -11, 3.3, 19, 8, 35, 20, lexpr=NEG))
texts += [T("f", 445, 926, 18, weight="bold"),
          T("Z-scaled control normalised protein expression", 480, 1076, 14, angle=270),
          T("sENG", 563, 954, 17.5),
          T("NOG", 707.5, 954, 17.5)]

chart = alt.layer(*panels, *texts).resolve_scale(
    x="independent", y="independent", fill="independent", xOffset="independent"
).resolve_axis(x="independent", y="independent").properties(
    width=W_TOTAL, height=H_TOTAL, padding=0, autosize=alt.AutoSizeParams(type="none")
).configure(font=FONT).configure_view(stroke=None)

chart.save("out.html", embed_options={"renderer": "svg", "actions": False})
